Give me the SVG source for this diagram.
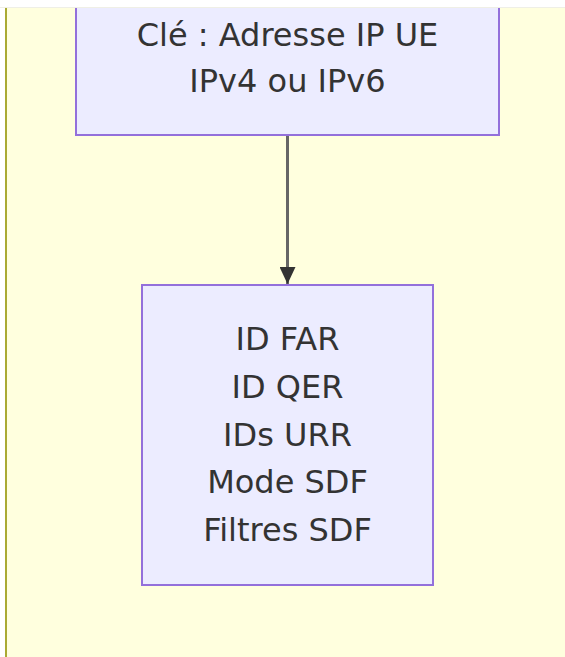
<svg xmlns="http://www.w3.org/2000/svg" width="565" height="657" viewBox="0 0 565 657">
<style>
.node rect{fill:#ECECFF;stroke:#9370DB;stroke-width:2}
.label{font-family:"DejaVu Sans",sans-serif;font-size:32px;fill:#333;text-anchor:middle}
.edge{stroke:#666;stroke-width:3;fill:none}
</style>
<defs>
<marker id="arrow" markerUnits="userSpaceOnUse" markerWidth="18" markerHeight="16" refX="17" refY="8" orient="auto">
<path d="M0,0 L17,8 L0,16 z" fill="#333"/>
</marker>
</defs>
<rect x="0" y="0" width="565" height="657" fill="#ffffff"/>
<g id="cluster">
<rect x="6" y="-20" width="800" height="900" fill="#ffffde" stroke="#aaaa33" stroke-width="2"/>
</g>
<g id="connectors">
<path class="edge" d="M287.5,136 L287.5,284" marker-end="url(#arrow)"/>
</g>
<g id="node-key" class="node">
<rect x="76" y="-22" width="423" height="157"/>
<text class="label" x="287.5" y="46">Clé : Adresse IP UE</text>
<text class="label" x="287.5" y="92">IPv4 ou IPv6</text>
</g>
<g id="node-ids" class="node">
<rect x="142" y="285" width="291" height="300"/>
<text class="label" x="287.5" y="350">ID FAR</text>
<text class="label" x="287.5" y="398">ID QER</text>
<text class="label" x="287.5" y="445.5">IDs URR</text>
<text class="label" x="287.5" y="493">Mode SDF</text>
<text class="label" x="287.5" y="540.5">Filtres SDF</text>
</g>
<rect x="0" y="0" width="565" height="7" fill="#ffffff"/>
<line x1="0" y1="7.5" x2="565" y2="7.5" stroke="#efefe6" stroke-width="1"/>
</svg>
